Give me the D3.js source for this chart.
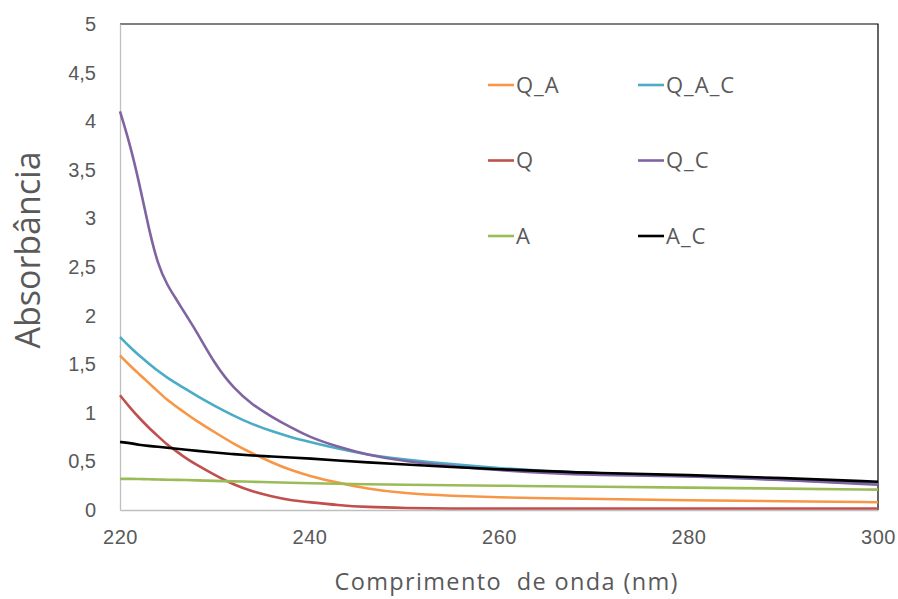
<!DOCTYPE html>
<html>
<head>
<meta charset="utf-8">
<script src="https://cdn.jsdelivr.net/npm/d3@7"></script>
<style>
  body { margin: 0; background: #fff; }
  svg { display: block; font-family: "Open Sans", sans-serif; }
  .axis path, .axis line { stroke: #bfbfbf; }
  .axis text { fill: #595959; font-size: 20px; }
</style>
</head>
<body>
<div id="chart"></div>
<script>
// wavelength grid (nm)
var wavelengths = [220, 221, 222, 223, 224, 225, 226, 227, 228, 230, 232, 234, 236, 238, 240, 243, 246, 250, 255, 260, 265, 270, 280, 290, 300]

// absorbance per sample
var qA  = [1.59, 1.49, 1.40, 1.31, 1.22, 1.13, 1.06, 0.99, 0.92, 0.80, 0.68, 0.58, 0.49, 0.41, 0.35, 0.28, 0.22, 0.17, 0.145, 0.13, 0.12, 0.115, 0.10, 0.09, 0.08]
var qAC = [1.78, 1.68, 1.59, 1.51, 1.43, 1.36, 1.30, 1.24, 1.18, 1.07, 0.97, 0.88, 0.81, 0.75, 0.70, 0.63, 0.57, 0.52, 0.47, 0.43, 0.40, 0.38, 0.35, 0.31, 0.27]
var q   = [1.18, 1.06, 0.95, 0.85, 0.76, 0.67, 0.60, 0.53, 0.47, 0.36, 0.26, 0.19, 0.14, 0.10, 0.08, 0.05, 0.03, 0.02, 0.015, 0.015, 0.015, 0.015, 0.015, 0.015, 0.015]
var qC  = [4.10, 3.78, 3.38, 2.91, 2.52, 2.31, 2.16, 2.00, 1.85, 1.50, 1.25, 1.08, 0.96, 0.85, 0.75, 0.65, 0.57, 0.50, 0.45, 0.41, 0.38, 0.36, 0.35, 0.31, 0.26]
var a   = [0.32, 0.32, 0.32, 0.315, 0.315, 0.31, 0.31, 0.31, 0.305, 0.30, 0.295, 0.29, 0.285, 0.28, 0.275, 0.27, 0.265, 0.26, 0.255, 0.25, 0.245, 0.24, 0.23, 0.22, 0.21]
var aC  = [0.70, 0.69, 0.67, 0.66, 0.65, 0.64, 0.63, 0.62, 0.61, 0.59, 0.575, 0.56, 0.55, 0.54, 0.53, 0.51, 0.49, 0.47, 0.44, 0.42, 0.40, 0.38, 0.36, 0.33, 0.29]

var seriesNames  = ['Q_A', 'Q_A_C', 'Q', 'Q_C', 'A', 'A_C']
var seriesValues = [qA, qAC, q, qC, a, aC]
var seriesColors = ['#f79646', '#4bacc6', '#c0504d', '#8064a2', '#9bbb59', '#000000']

var xTicks = [220, 240, 260, 280, 300]
var yTicks = [0, 0.5, 1, 1.5, 2, 2.5, 3, 3.5, 4, 4.5, 5]

var W = 898, H = 599
var margin = {top: 24, right: 20, bottom: 89, left: 120},
    width = W - margin.left - margin.right,
    height = H - margin.top - margin.bottom

var x = d3.scaleLinear().domain([220, 300]).range([0, width]),
    y = d3.scaleLinear().domain([0, 5]).range([height, 0])

var svg = d3.select('#chart').append('svg')
  .attr('width', W)
  .attr('height', H)

var g = svg.append('g')
  .attr('transform', `translate(${[margin.left, margin.top]})`)

// frame: top and right in black
g.append('path')
  .attr('d', `M0,0H${width}V${height}`)
  .attr('fill', 'none')
  .attr('stroke', '#000')
  .attr('stroke-width', 1.2)

var fmt = d => String(d).replace('.', ',')

g.append('g')
  .attr('class', 'axis axis--x')
  .attr('transform', `translate(0,${height})`)
  .call(d3.axisBottom(x).tickValues(xTicks).tickSize(0).tickPadding(20).tickFormat(d3.format('d')))
  .call(s => s.select('.domain').attr('stroke-width', 1.3))
  .call(s => s.selectAll('.tick text').attr('letter-spacing', 0.6))

g.append('g')
  .attr('class', 'axis axis--y')
  .call(d3.axisLeft(y).tickValues(yTicks).tickSize(0).tickPadding(24).tickFormat(fmt))
  .call(s => s.select('.domain').attr('stroke-width', 1.3))

var line = d3.line()
  .x((d, i) => x(wavelengths[i]))
  .y(d => y(d))
  .curve(d3.curveBasis)

g.selectAll('.series')
  .data(seriesValues)
  .enter().append('path')
  .attr('class', 'series')
  .attr('fill', 'none')
  .attr('stroke', (d, i) => seriesColors[i])
  .attr('stroke-width', 2.6)
  .attr('stroke-linejoin', 'round')
  .attr('d', line)

// legend, two columns
var legend = svg.append('g')
var items = legend.selectAll('g')
  .data(seriesNames)
  .enter().append('g')
  .attr('transform', (d, i) => `translate(${[i % 2 ? 638 : 488, 85 + Math.floor(i / 2) * 75.5]})`)

items.append('line')
  .attr('x1', 0).attr('x2', 26)
  .attr('stroke', (d, i) => seriesColors[i])
  .attr('stroke-width', 2.6)

items.append('text')
  .attr('x', 28)
  .attr('dy', '0.36em')
  .attr('fill', '#595959')
  .attr('font-size', 22)
  .attr('letter-spacing', 1)
  .text(d => d)

svg.append('text')
  .attr('x', 506)
  .attr('y', 590)
  .attr('text-anchor', 'middle')
  .attr('fill', '#595959')
  .attr('font-size', 23.5)
  .attr('textLength', 343)
  .attr('lengthAdjust', 'spacing')
  .style('white-space', 'pre')
  .text('Comprimento  de onda (nm)')

svg.append('text')
  .attr('transform', 'translate(40,250) rotate(-90)')
  .attr('text-anchor', 'middle')
  .attr('fill', '#595959')
  .attr('font-size', 34)
  .text('Absorbância')
</script>
</body>
</html>
